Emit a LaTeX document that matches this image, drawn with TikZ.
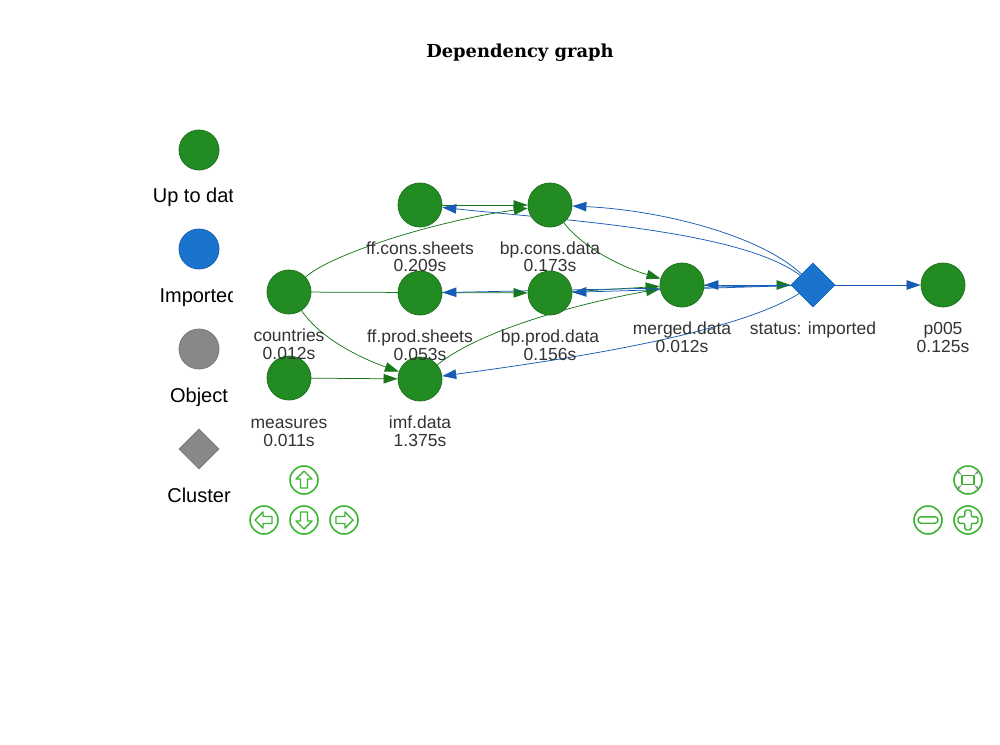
\documentclass[tikz,border=0pt]{standalone}
\usepackage{fontspec}
\setmainfont{Liberation Sans}
\newfontfamily\titlefont{DejaVu Serif}
\usetikzlibrary{shapes.geometric,arrows.meta}
\definecolor{ngreen}{RGB}{34,139,34}
\definecolor{ngreenb}{RGB}{30,115,30}
\definecolor{egreen}{RGB}{25,120,25}
\definecolor{eblue}{RGB}{22,92,180}
\definecolor{nblue}{RGB}{26,116,205}
\definecolor{nblueb}{RGB}{20,95,180}
\definecolor{ngray}{RGB}{136,136,136}
\definecolor{ngrayb}{RGB}{120,120,120}
\definecolor{navg}{RGB}{60,180,50}
\definecolor{lbltext}{RGB}{51,51,51}
\pgfdeclarelayer{bg}
\pgfsetlayers{bg,main}
\begin{document}
\begin{tikzpicture}[x=1pt,y=-1pt,
  gnode/.style={circle,fill=ngreen,draw=ngreenb,line width=0.8pt,minimum size=44pt,inner sep=0pt},
  dnode/.style={diamond,fill=nblue,draw=nblueb,line width=0.8pt,minimum size=44pt,inner sep=0pt,aspect=1},
  lbl/.style={font=\fontsize{17.5}{18}\selectfont,text=lbltext,anchor=base,inner sep=0pt},
  leg/.style={font=\fontsize{20}{22}\selectfont,text=black,anchor=base,inner sep=0pt},
  gedge/.style={draw=egreen,line width=0.75pt,-{Triangle[length=14pt,width=9.5pt]}},
  bedge/.style={draw=eblue,line width=0.75pt,-{Triangle[length=14pt,width=9.5pt]}},
  navc/.style={draw=navg,line width=1.6pt},
  navi/.style={draw=navg,line width=1.4pt,line join=round},
]
\useasboundingbox (0,0) rectangle (1000,744);

% title
\node[font=\titlefont\bfseries\fontsize{17.9}{20}\selectfont,anchor=base,inner sep=0pt] (title) at (520,57) {Dependency graph};

% legend
\node[circle,fill=ngreen,draw=ngreenb,line width=0.8pt,minimum size=40pt,inner sep=0pt] (leg1) at (199,150) {};
\node[circle,fill=nblue,draw=nblueb,line width=0.8pt,minimum size=40pt,inner sep=0pt] (leg2) at (199,249) {};
\node[circle,fill=ngray,draw=ngrayb,line width=0.8pt,minimum size=40pt,inner sep=0pt] (leg3) at (199,349) {};
\node[diamond,aspect=1,fill=ngray,draw=ngrayb,line width=0.8pt,minimum size=40pt,inner sep=0pt] (leg4) at (199,449) {};
\begin{scope}
\clip (120,160) rectangle (232,520);
\node[leg] (legt1) at (199,202) {Up to date};
\node[leg] (legt2) at (199,302) {Imported};
\node[leg] (legt3) at (199,402) {Object};
\node[leg] (legt4) at (199,502) {Cluster};
\end{scope}

% nodes
\node[gnode] (ffcons) at (420,205) {};
\node[gnode] (bpcons) at (550,205) {};
\node[gnode] (countries) at (289,292) {};
\node[gnode] (ffprod) at (420,293) {};
\node[gnode] (bpprod) at (550,293) {};
\node[gnode] (merged) at (682,285) {};
\node[dnode] (status) at (813,285) {};
\node[gnode] (p005) at (943,285) {};
\node[gnode] (measures) at (289,378) {};
\node[gnode] (imf) at (420,379) {};

% labels
\node[lbl] (ffconsA) at (420,254) {ff.cons.sheets};
\node[lbl] (ffconsB) at (420,271) {0.209s};
\node[lbl] (bpconsA) at (550,254) {bp.cons.data};
\node[lbl] (bpconsB) at (550,271) {0.173s};
\node[lbl] (countriesA) at (289,341) {countries};
\node[lbl] (countriesB) at (289,359) {0.012s};
\node[lbl] (ffprodA) at (420,342) {ff.prod.sheets};
\node[lbl] (ffprodB) at (420,360) {0.053s};
\node[lbl] (bpprodA) at (550,342) {bp.prod.data};
\node[lbl] (bpprodB) at (550,360) {0.156s};
\node[lbl] (mergedA) at (682,334) {merged.data};
\node[lbl] (mergedB) at (682,352) {0.012s};
\node[lbl] (statusA) at (813,334) {status: imported};
\node[lbl] (p005A) at (943,334) {p005};
\node[lbl] (p005B) at (943,352) {0.125s};
\node[lbl] (measuresA) at (289,428) {measures};
\node[lbl] (measuresB) at (289,446) {0.011s};
\node[lbl] (imfA) at (420,428) {imf.data};
\node[lbl] (imfB) at (420,446) {1.375s};

% edges (behind nodes)
\begin{pgfonlayer}{bg}
\fill[white] (0,0) rectangle (1000,744);
\draw[gedge] (countries) .. controls (330,255) and (430,222) .. (bpcons);
\draw[gedge] (ffcons) -- (bpcons);
\draw[gedge] (countries) -- (bpprod);
\draw[gedge] (countries) .. controls (320,338) and (360,358) .. (imf);
\draw[gedge] (measures) -- (imf);
\draw[gedge] (bpcons) .. controls (585,250) and (625,268) .. (merged);
\draw[gedge] (bpprod) -- (merged);
\draw[gedge] (imf) .. controls (480,330) and (580,303) .. (merged);
\draw[gedge] (merged) -- (status);
\draw[bedge] (status) .. controls (760,235) and (660,210) .. (bpcons);
\draw[bedge] (status) .. controls (740,230) and (560,220) .. (ffcons);
\draw[bedge] (status) -- (merged);
\draw[bedge] (status) -- (bpprod);
\draw[bedge] (status) -- (ffprod);
\draw[bedge] (status) .. controls (740,330) and (600,355) .. (imf);
\draw[bedge] (status) -- (p005);
\end{pgfonlayer}

% navigation buttons
\draw[navc] (304,480) circle[radius=14];
\draw[navi,shift={(304,480)}] (0,-9) -- (8,-1) -- (3.5,-1) -- (3.5,8) -- (-3.5,8) -- (-3.5,-1) -- (-8,-1) -- cycle;
\draw[navc] (304,520) circle[radius=14];
\draw[navi,shift={(304,520)}] (0,9) -- (8,1) -- (3.5,1) -- (3.5,-8) -- (-3.5,-8) -- (-3.5,1) -- (-8,1) -- cycle;
\draw[navc] (264,520) circle[radius=14];
\draw[navi,shift={(264,520)}] (-9,0) -- (-1,-8) -- (-1,-3.5) -- (8,-3.5) -- (8,3.5) -- (-1,3.5) -- (-1,8) -- cycle;
\draw[navc] (344,520) circle[radius=14];
\draw[navi,shift={(344,520)}] (9,0) -- (1,-8) -- (1,-3.5) -- (-8,-3.5) -- (-8,3.5) -- (1,3.5) -- (1,8) -- cycle;

\draw[navc] (968,480) circle[radius=14];
\draw[navi,shift={(968,480)}] (-6,-4.5) rectangle (6,4.5);
\begin{scope}[shift={(968,480)},line width=0.8pt]
\draw[gray,-{Stealth[length=3pt,width=3pt]}] (7,5.5) -- (10.5,9);
\draw[gray,-{Stealth[length=3pt,width=3pt]}] (-7,5.5) -- (-10.5,9);
\draw[gray,-{Stealth[length=3pt,width=3pt]}] (7,-5.5) -- (10.5,-9);
\draw[gray,-{Stealth[length=3pt,width=3pt]}] (-7,-5.5) -- (-10.5,-9);
\end{scope}
\draw[navc] (928,520) circle[radius=14];
\draw[navi,rounded corners=3pt,shift={(928,520)}] (-10,-3.2) rectangle (10,3.2);
\draw[navc] (968,520) circle[radius=14];
\draw[navi,rounded corners=1.5pt,shift={(968,520)}] (-3.2,-10) -- (3.2,-10) -- (3.2,-3.2) -- (10,-3.2) -- (10,3.2) -- (3.2,3.2) -- (3.2,10) -- (-3.2,10) -- (-3.2,3.2) -- (-10,3.2) -- (-10,-3.2) -- (-3.2,-3.2) -- cycle;
\end{tikzpicture}
\end{document}
